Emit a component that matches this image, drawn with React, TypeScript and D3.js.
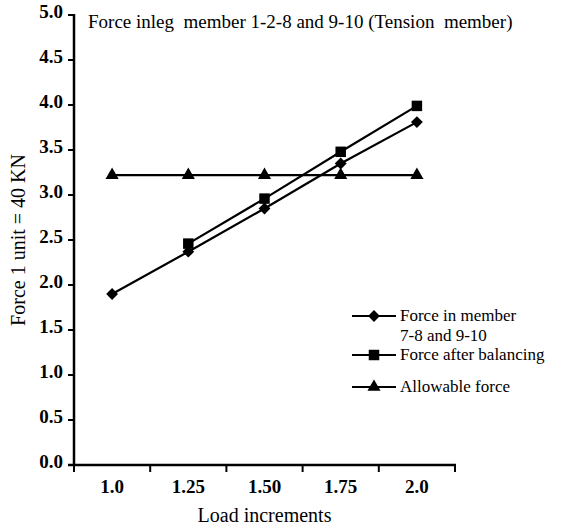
import * as d3 from 'd3';

const W = 566, H = 527;
const M = { left: 74, right: 455, top: 15, bottom: 465 };

const loads = ['1.0', '1.25', '1.50', '1.75', '2.0'];
const memberForce = [1.9, 2.37, 2.85, 3.35, 3.81];
const balancedForce = [null, 2.46, 2.96, 3.48, 3.99];
const allowableForce = [3.22, 3.22, 3.22, 3.22, 3.22];
const yTicks = [0, 0.5, 1, 1.5, 2, 2.5, 3, 3.5, 4, 4.5, 5];

const FONT = "'Liberation Serif', 'Times New Roman', Times, serif";

const series = [
  { name: ['Force in member', '7-8 and 9-10'], values: memberForce, symbol: d3.symbolSquare, size: 70, rot: 45 },
  { name: ['Force after balancing'], values: balancedForce, symbol: d3.symbolSquare, size: 110, rot: 0 },
  { name: ['Allowable force'], values: allowableForce, symbol: d3.symbolTriangle, size: 75, rot: 0 },
];

export default function App() {
  const x = d3.scaleBand<string>().domain(loads).range([M.left, M.right]);
  const y = d3.scaleLinear().domain([0, 5]).range([M.bottom, M.top]);
  const cx = (d: string) => (x(d) ?? 0) + x.bandwidth() / 2;
  const xEdges = [...loads.map((d) => x(d) ?? 0), M.right];

  const line = d3
    .line<number | null>()
    .defined((d) => d != null)
    .x((_, i) => cx(loads[i]))
    .y((d) => y(d as number));

  const legendRows = [
    { y: 316, s: series[0] },
    { y: 355, s: series[1] },
    { y: 387, s: series[2] },
  ];

  return (
    <svg width={W} height={H} style={{ position: 'absolute', left: 0, top: 0, background: '#fff', fontFamily: FONT }}>
      {/* title */}
      <text x={88} y={28} fontSize={19} fill="#000">
        Force inleg&#160; member 1-2-8 and 9-10 (Tension&#160; member)
      </text>

      {/* y axis */}
      <line x1={M.left} x2={M.left} y1={M.top - 1} y2={M.bottom + 1} stroke="#000" strokeWidth={2.5} />
      {yTicks.map((t) => (
        <g key={t}>
          <line x1={M.left - 6} x2={M.left} y1={y(t)} y2={y(t)} stroke="#000" strokeWidth={2} />
          <text x={M.left - 11} y={y(t) + 3} textAnchor="end" fontSize={19} fontWeight="bold">
            {d3.format('.1f')(t)}
          </text>
        </g>
      ))}
      <text
        transform={`translate(25,${(M.top + M.bottom) / 2}) rotate(-90)`}
        textAnchor="middle"
        fontSize={20}
      >
        Force 1 unit = 40 KN
      </text>

      {/* x axis */}
      <line x1={M.left - 6} x2={M.right + 1} y1={M.bottom} y2={M.bottom} stroke="#000" strokeWidth={2.5} />
      {xEdges.map((e, i) => (
        <line key={i} x1={e} x2={e} y1={M.bottom} y2={M.bottom + 7} stroke="#000" strokeWidth={2} />
      ))}
      {loads.map((d) => (
        <text key={d} x={cx(d)} y={M.bottom + 28} textAnchor="middle" fontSize={19} fontWeight="bold">
          {d}
        </text>
      ))}
      <text x={(M.left + M.right) / 2} y={522} textAnchor="middle" fontSize={20}>
        Load increments
      </text>

      {/* series */}
      {series.map((s, si) => (
        <g key={si}>
          <path d={line(s.values) ?? ''} fill="none" stroke="#000" strokeWidth={2.2} />
          {s.values.map((v, i) =>
            v == null ? null : (
              <path
                key={i}
                transform={`translate(${cx(loads[i])},${y(v)}) rotate(${s.rot})`}
                d={d3.symbol().type(s.symbol).size(s.size)() ?? ''}
                fill="#000"
              />
            )
          )}
        </g>
      ))}

      {/* legend */}
      {legendRows.map((r, i) => (
        <g key={i}>
          <line x1={352} x2={396} y1={r.y} y2={r.y} stroke="#000" strokeWidth={2.2} />
          <path
            transform={`translate(374,${r.y}) rotate(${r.s.rot})`}
            d={d3.symbol().type(r.s.symbol).size(r.s.size)() ?? ''}
            fill="#000"
          />
          {r.s.name.map((t, j) => (
            <text key={j} x={400} y={r.y + 5 + j * 20} fontSize={17}>
              {t}
            </text>
          ))}
        </g>
      ))}
    </svg>
  );
}
